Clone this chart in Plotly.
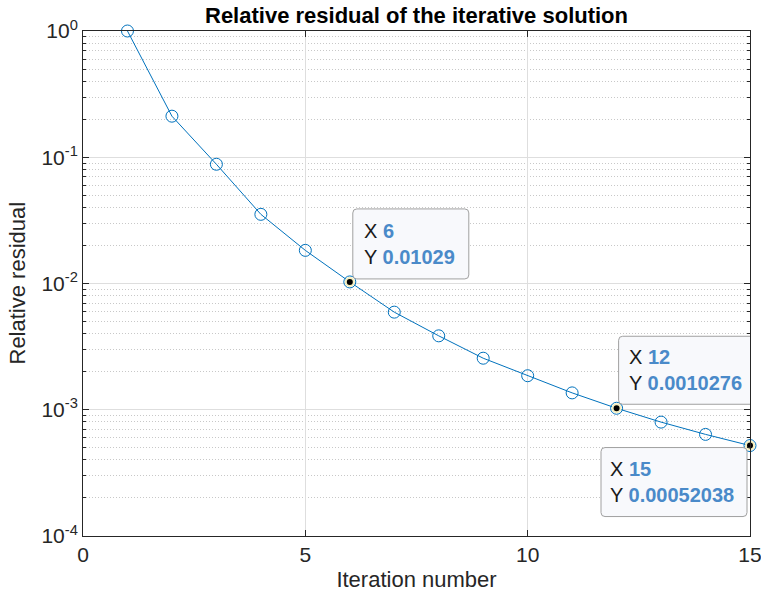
import math
import plotly.graph_objects as go

iterations = list(range(1, 16))
residuals = [1.0, 0.2115, 0.0880, 0.0353, 0.0183, 0.01029, 0.00593, 0.00385,
             0.00256, 0.00186, 0.00136, 0.0010276, 0.000798, 0.000638, 0.00052038]
tip_iters = [6, 12, 15]
tip_labels = ["0.01029", "0.0010276", "0.00052038"]

y_tickvals = [1e-4, 1e-3, 1e-2, 1e-1, 1]
y_ticktext = ["10<sup>-4</sup>", "10<sup>-3</sup>", "10<sup>-2</sup>", "10<sup>-1</sup>", "10<sup>0</sup>"]
x_tickvals = [0, 5, 10, 15]

blue = "#0072BD"
font = "Liberation Sans, Arial, Helvetica, sans-serif"

# data-tip box geometry in pixels relative to the tip point: (x0, x1, y0, y1, text x shift)
tip_boxes = [(3, 119, 3, 73, 13), (2, 140, 4, 72, 11), (-149, -3, -71, -2, -141)]


def rounded_rect(x0, x1, y0, y1, r=4):
    return (f"M{x0 + r},{y0} L{x1 - r},{y0} Q{x1},{y0} {x1},{y0 + r} "
            f"L{x1},{y1 - r} Q{x1},{y1} {x1 - r},{y1} L{x0 + r},{y1} "
            f"Q{x0},{y1} {x0},{y1 - r} L{x0},{y0 + r} Q{x0},{y0} {x0 + r},{y0} Z")


fig = go.Figure()
fig.add_trace(go.Scatter(
    x=iterations, y=residuals, mode="lines+markers",
    line=dict(color=blue, width=1),
    marker=dict(symbol="circle-open", size=12, color=blue, line=dict(width=1)),
    cliponaxis=False, showlegend=False, hoverinfo="x+y"))

tip_y = [residuals[iterations.index(i)] for i in tip_iters]
fig.add_trace(go.Scatter(
    x=tip_iters, y=tip_y, mode="markers",
    marker=dict(symbol="circle", size=8, color="black", line=dict(color="#f5efc0", width=2)),
    cliponaxis=False, showlegend=False, hoverinfo="skip"))

for xi, yi, lab, (bx0, bx1, by0, by1, tx) in zip(tip_iters, tip_y, tip_labels, tip_boxes):
    ly = math.log10(yi)
    fig.add_shape(
        type="path", xref="x", yref="y", xsizemode="pixel", ysizemode="pixel",
        xanchor=xi, yanchor=yi, path=rounded_rect(bx0, bx1, by0, by1),
        fillcolor="#f8f9fc", line=dict(color="#a0a0a0", width=1), layer="above")
    fig.add_annotation(
        x=xi, y=ly, xref="x", yref="y", showarrow=False,
        xanchor="left", yanchor="middle", xshift=tx, yshift=(by0 + by1) / 2, align="left",
        text=f"X <span style='color:#4a8ac9'><b>{xi}</b></span><br>Y <span style='color:#4a8ac9'><b>{lab}</b></span>",
        font=dict(family=font, size=20, color="#1a1a1a"), borderpad=0)

fig.add_annotation(
    text="Relative residual", textangle=-90, xref="paper", yref="paper",
    x=0, y=0.5, xshift=-66, xanchor="center", yanchor="middle", showarrow=False,
    font=dict(family=font, size=22, color="#262626"))

fig.update_layout(
    width=761, height=597,
    margin=dict(l=83, r=11, t=31, b=61, autoexpand=False),
    paper_bgcolor="white", plot_bgcolor="white",
    font=dict(family=font, size=21, color="#262626"),
    title=dict(text="<b>Relative residual of the iterative solution</b>",
               x=0.5, xref="paper", xanchor="center", y=0.975, yanchor="middle",
               font=dict(family=font, size=22, color="black")),
)
fig.update_xaxes(
    range=[0, 15], tickvals=x_tickvals, ticks="inside", ticklen=6,
    tickcolor="#262626", showline=True, linecolor="#262626", linewidth=1, mirror="ticks",
    showgrid=True, gridcolor="#dedede", gridwidth=1, zeroline=False, automargin=False,
    ticklabeloverflow="allow",
    title=dict(text="Iteration number", font=dict(size=22), standoff=6),
    tickfont=dict(size=21))
fig.update_yaxes(
    type="log", range=[-4, 0], tickvals=y_tickvals, ticktext=y_ticktext,
    ticks="inside", ticklen=6, tickcolor="#262626", automargin=False,
    showline=True, linecolor="#262626", linewidth=1, mirror="ticks",
    showgrid=True, gridcolor="#dedede", gridwidth=1, zeroline=False,
    ticklabeloverflow="allow",
    minor=dict(dtick="D1", ticks="inside", ticklen=3, tickcolor="#262626",
               showgrid=True, gridcolor="#c8c8c8", griddash="1px,2px", gridwidth=1),
    tickfont=dict(size=21))

fig.write_html("out.html", config={"displayModeBar": False},
               post_script="document.body.style.margin='0px';")
